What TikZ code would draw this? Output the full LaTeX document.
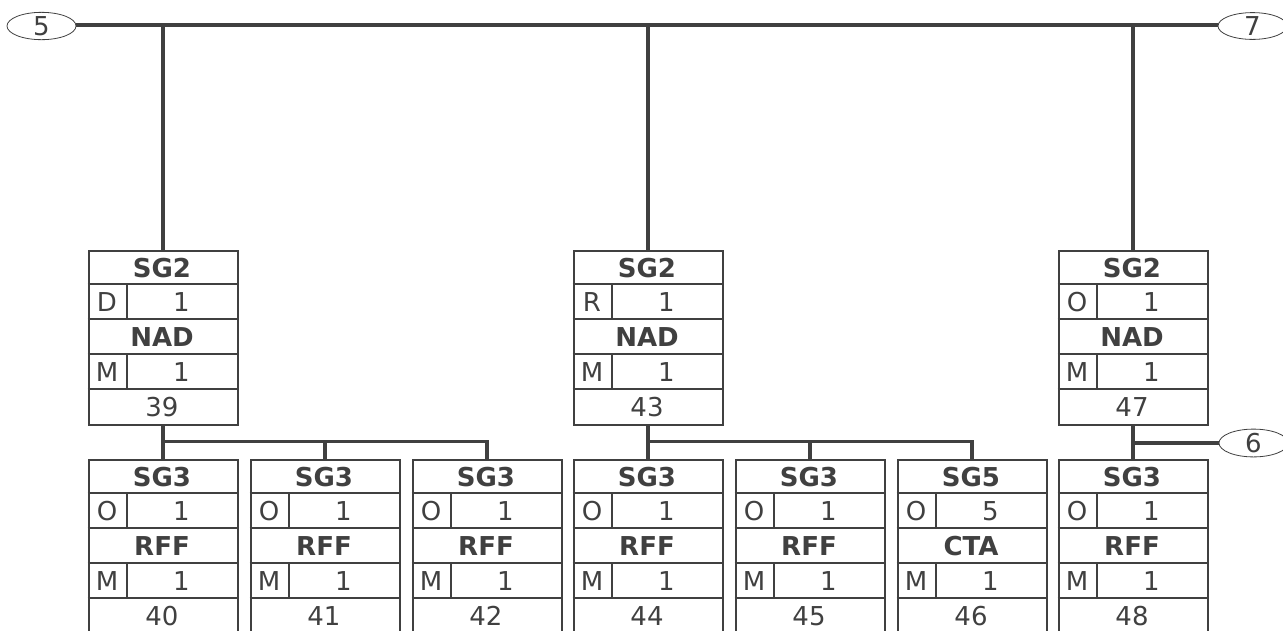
\documentclass[tikz,border=0pt]{standalone}
\usepackage{fontspec}
\setmainfont{DejaVu Sans}
\usetikzlibrary{shapes.geometric}
\definecolor{ink}{HTML}{404040}
\tikzset{
  conn/.style={draw=ink, line width=3.2pt},
  boxline/.style={draw=ink, line width=2pt},
  seg/.style={rectangle, draw=ink, line width=2pt, minimum width=149pt, minimum height=174pt, inner sep=0pt, anchor=north west},
  oval/.style={ellipse, draw=ink, line width=0.8pt, minimum width=69pt, minimum height=24pt, inner sep=0pt, font=\fontsize{26}{26}\selectfont, text=ink},
  lbl/.style={font=\fontsize{26}{26}\selectfont, text=ink, inner sep=0pt, anchor=base},
  blbl/.style={lbl, font=\fontsize{26}{26}\selectfont\bfseries}
}
% #1 number, #2 x, #3 y, #4 group, #5 status, #6 rep, #7 tag, #8 rep2
\newcommand\segbox[8]{%
  \node[seg] (b#1) at (#2,#3) {};
  \draw[boxline] (#2,#3+34.8) -- (#2+149,#3+34.8);
  \draw[boxline] (#2,#3+69.6) -- (#2+149,#3+69.6);
  \draw[boxline] (#2,#3+104.4) -- (#2+149,#3+104.4);
  \draw[boxline] (#2,#3+139.2) -- (#2+149,#3+139.2);
  \draw[boxline] (#2+39,#3+34.8) -- (#2+39,#3+69.6);
  \draw[boxline] (#2+39,#3+104.4) -- (#2+39,#3+139.2);
  \node[blbl] (b#1g) at (#2+74.5,#3+27.5) {#4};
  \node[lbl] (b#1s) at (#2+19.5,#3+62.3) {#5};
  \node[lbl] (b#1r) at (#2+94,#3+62.3) {#6};
  \node[blbl] (b#1t) at (#2+74.5,#3+97.1) {#7};
  \node[lbl] (b#1m) at (#2+19.5,#3+131.9) {M};
  \node[lbl] (b#1q) at (#2+94,#3+131.9) {#8};
  \node[lbl] (b#1n) at (#2+74.5,#3+166.7) {#1};
}
\begin{document}
\begin{tikzpicture}[x=1pt,y=-1pt]
\useasboundingbox (0,0) rectangle (1283,630);
\clip (0,0) rectangle (1283,630);
% ovals
\node[oval] (o5) at (41.5,26) {5};
\node[oval] (o7) at (1252.5,26) {7};
\node[oval] (o6) at (1253.5,443) {6};
% upper boxes
\segbox{39}{87.5}{249.5}{SG2}{D}{1}{NAD}{1}
\segbox{43}{572.5}{249.5}{SG2}{R}{1}{NAD}{1}
\segbox{47}{1057.5}{249.5}{SG2}{O}{1}{NAD}{1}
% lower boxes
\segbox{40}{87.5}{458.5}{SG3}{O}{1}{RFF}{1}
\segbox{41}{249.5}{458.5}{SG3}{O}{1}{RFF}{1}
\segbox{42}{411.5}{458.5}{SG3}{O}{1}{RFF}{1}
\segbox{44}{572.5}{458.5}{SG3}{O}{1}{RFF}{1}
\segbox{45}{734.5}{458.5}{SG3}{O}{1}{RFF}{1}
\segbox{46}{896.5}{458.5}{SG5}{O}{5}{CTA}{1}
\segbox{48}{1057.5}{458.5}{SG3}{O}{1}{RFF}{1}
% top bus
\draw[conn] (o5.east |- 0,25) -- (o7.west |- 0,25);
\draw[conn] (b39.north |- 0,25) -- (b39.north);
\draw[conn] (b43.north |- 0,25) -- (b43.north);
\draw[conn] (b47.north |- 0,25) -- (b47.north);
% group 39
\draw[conn] (b39.south) -- (b40.north);
\draw[conn] (b40.north |- 0,441.5) -| (b42.north);
\draw[conn] (b41.north) -- (b41.north |- 0,441.5);
% group 43
\draw[conn] (b43.south) -- (b44.north);
\draw[conn] (b44.north |- 0,441.5) -| (b46.north);
\draw[conn] (b45.north) -- (b45.north |- 0,441.5);
% group 47
\draw[conn] (b47.south) -- (b48.north);
\draw[conn] (b48.north |- o6) -- (o6.west);
\end{tikzpicture}
\end{document}
